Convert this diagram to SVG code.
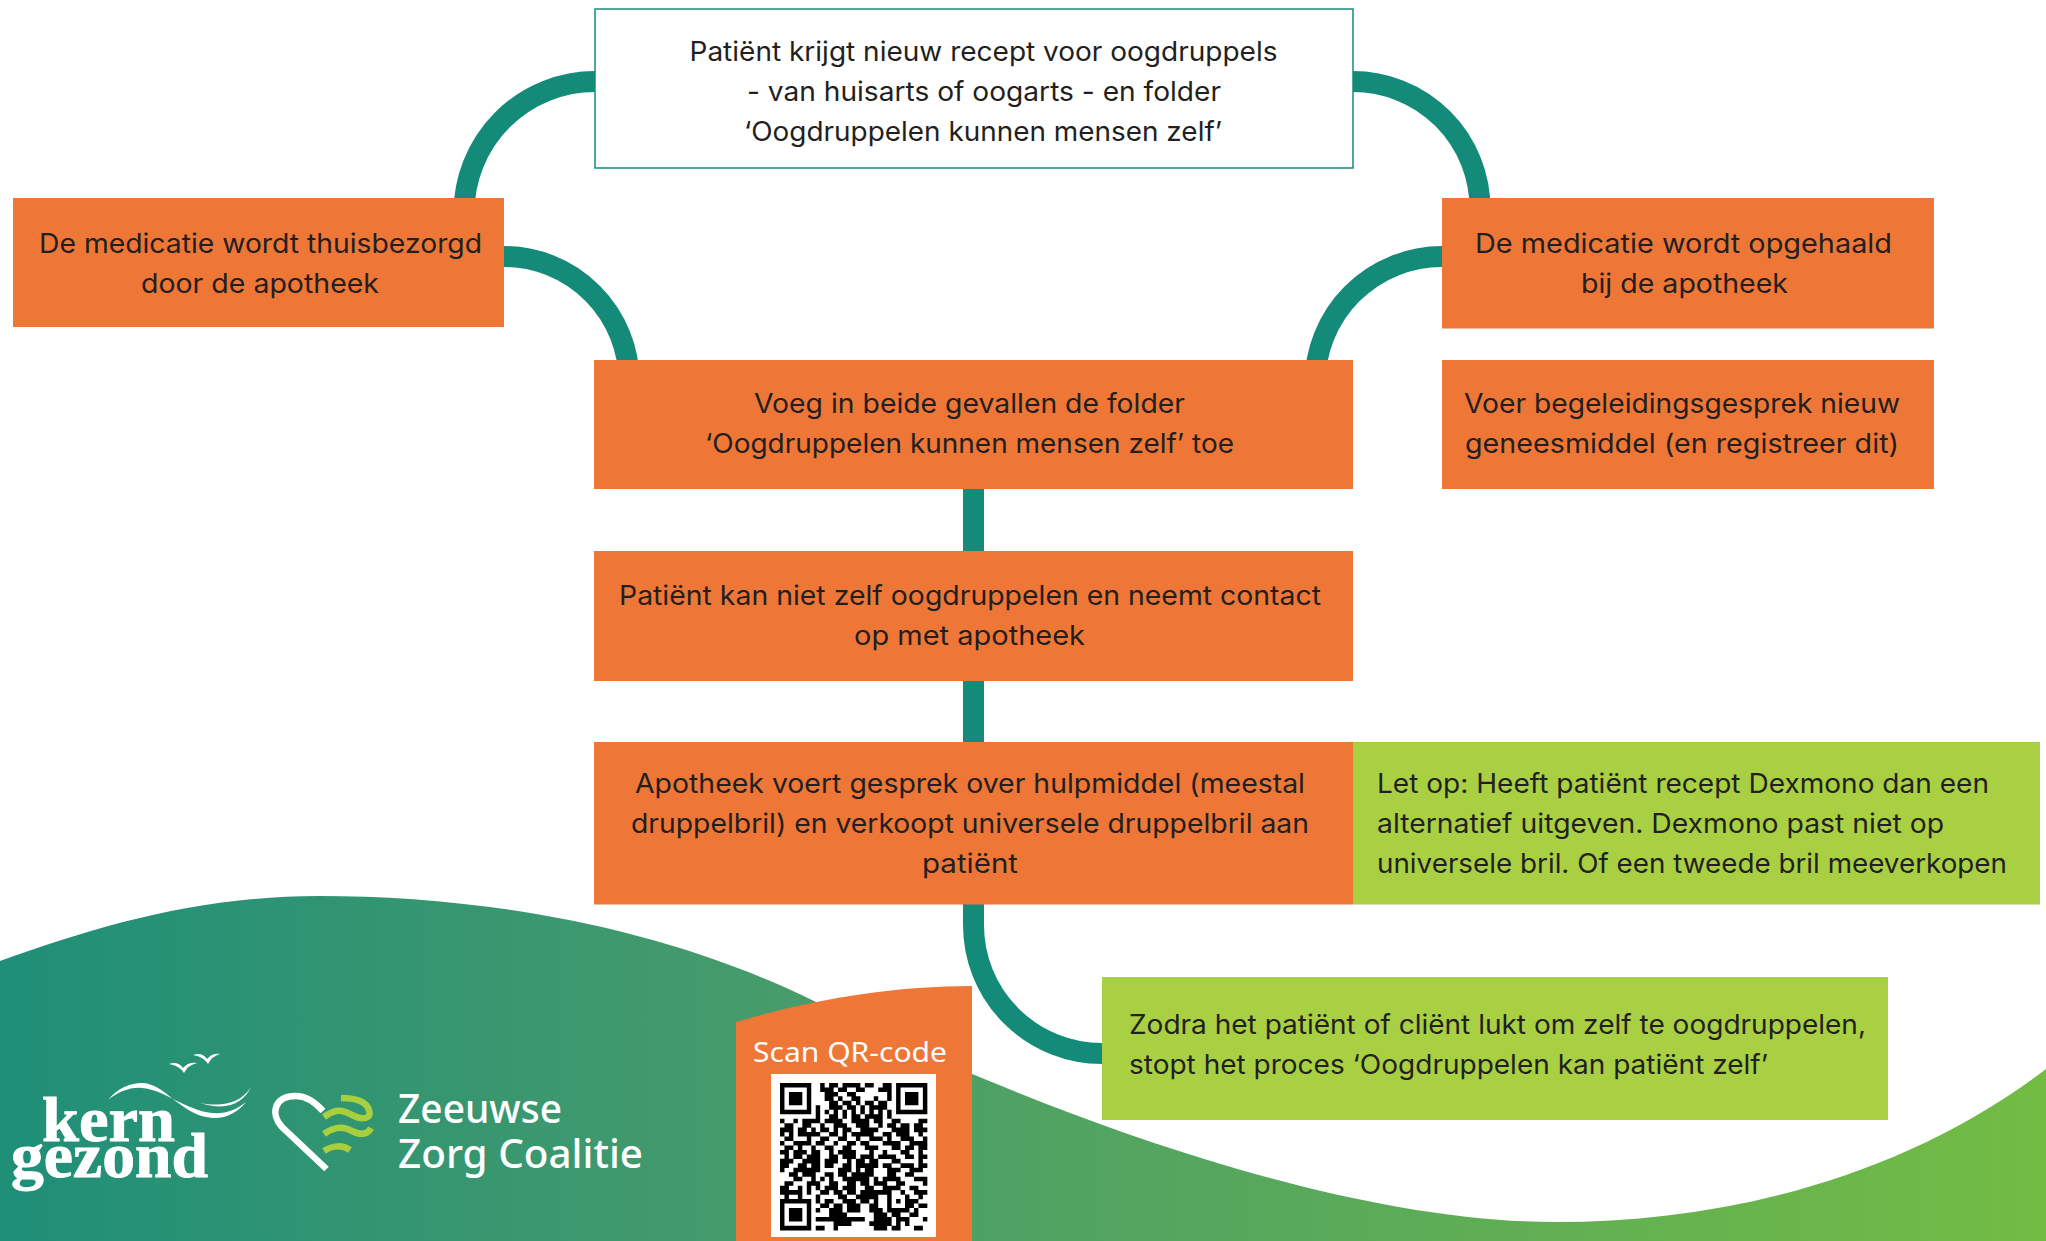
<svg xmlns="http://www.w3.org/2000/svg" width="2046" height="1241" viewBox="0 0 2046 1241">
<style>
.o{fill:#ee7737}.g{fill:#a8d042}
.t{font-family:Inter,"Noto Sans","Liberation Sans",sans-serif;font-size:26.7px;fill:#231f20}
.c{fill:none;stroke:#148b78;stroke-width:21}
.w{font-family:"Noto Sans","Open Sans",sans-serif;fill:#fff}
.k{font-family:"Liberation Serif",serif;font-weight:700;font-size:64px;fill:#fff;stroke:#fff;stroke-width:.9}
</style>
<defs><linearGradient id="bg" gradientUnits="userSpaceOnUse" x1="0" y1="0" x2="2046" y2="0"><stop offset="0" stop-color="#1f8f78"/><stop offset="0.37" stop-color="#469b6b"/><stop offset="1" stop-color="#72bc44"/></linearGradient></defs>
<rect width="2046" height="1241" fill="#fff"/>
<path id="wave" fill="url(#bg)" d="M0 961C100 925 200 896 319 896C480 896 660 925 816 1002C960 1075 1300 1222 1556 1222C1720 1222 1900 1180 2046 1069V1241H0Z"/>
<g id="connectors" class="c">
<path class="c" d="M600 81.5H595A131 131 0 0 0 464 212.5"/>
<path class="c" d="M1348 81.5H1353A127 127 0 0 1 1480 208.5"/>
<path class="c" d="M500 256.5H504A125 125 0 0 1 629 381.5"/>
<path class="c" d="M1448 256.5H1442A127 127 0 0 0 1315 383.5"/>
<path class="c" d="M973.5 485V555"/>
<path class="c" d="M973.5 676V746"/>
<path class="c" d="M973.5 900V925A128.5 128.5 0 0 0 1102 1053.5H1108"/>
</g>
<g id="n1"><rect x="595" y="9" width="758" height="159" fill="#fff" stroke="#148b78" stroke-width="1.5"/>
<text class="t" x="689.5" y="61" textLength="588" lengthAdjust="spacingAndGlyphs">Patiënt krijgt nieuw recept voor oogdruppels</text>
<text class="t" x="747" y="101" textLength="474" lengthAdjust="spacingAndGlyphs">- van huisarts of oogarts - en folder</text>
<text class="t" x="744" y="141" textLength="478" lengthAdjust="spacingAndGlyphs">‘Oogdruppelen kunnen mensen zelf’</text></g>
<g id="n2"><rect class="o" x="13" y="198" width="491" height="129"/>
<text class="t" x="39" y="253" textLength="443" lengthAdjust="spacingAndGlyphs">De medicatie wordt thuisbezorgd</text>
<text class="t" x="141" y="293" textLength="238" lengthAdjust="spacingAndGlyphs">door de apotheek</text></g>
<g id="n3"><rect class="o" x="1442" y="198" width="492" height="130.5"/>
<text class="t" x="1475" y="253" textLength="417" lengthAdjust="spacingAndGlyphs">De medicatie wordt opgehaald</text>
<text class="t" x="1581" y="293" textLength="207" lengthAdjust="spacingAndGlyphs">bij de apotheek</text></g>
<g id="n4"><rect class="o" x="594" y="360" width="759" height="129"/>
<text class="t" x="754" y="413" textLength="431" lengthAdjust="spacingAndGlyphs">Voeg in beide gevallen de folder</text>
<text class="t" x="705" y="453" textLength="529" lengthAdjust="spacingAndGlyphs">‘Oogdruppelen kunnen mensen zelf’ toe</text></g>
<g id="n5"><rect class="o" x="1442" y="360" width="492" height="129"/>
<text class="t" x="1464" y="413" textLength="436" lengthAdjust="spacingAndGlyphs">Voer begeleidingsgesprek nieuw</text>
<text class="t" x="1465" y="453" textLength="434" lengthAdjust="spacingAndGlyphs">geneesmiddel (en registreer dit)</text></g>
<g id="n6"><rect class="o" x="594" y="551" width="759" height="130"/>
<text class="t" x="619" y="605" textLength="702" lengthAdjust="spacingAndGlyphs">Patiënt kan niet zelf oogdruppelen en neemt contact</text>
<text class="t" x="854" y="645" textLength="231" lengthAdjust="spacingAndGlyphs">op met apotheek</text></g>
<g id="n7"><rect class="o" x="594" y="742" width="759" height="162.5"/>
<text class="t" x="635" y="793" textLength="670" lengthAdjust="spacingAndGlyphs">Apotheek voert gesprek over hulpmiddel (meestal</text>
<text class="t" x="631" y="833" textLength="678" lengthAdjust="spacingAndGlyphs">druppelbril) en verkoopt universele druppelbril aan</text>
<text class="t" x="922" y="873" textLength="96" lengthAdjust="spacingAndGlyphs">patiënt</text></g>
<g id="n8"><rect class="g" x="1353" y="742" width="687" height="162.5"/>
<text class="t" x="1377" y="793" textLength="612" lengthAdjust="spacingAndGlyphs">Let op: Heeft patiënt recept Dexmono dan een</text>
<text class="t" x="1377" y="833" textLength="567" lengthAdjust="spacingAndGlyphs">alternatief uitgeven. Dexmono past niet op</text>
<text class="t" x="1377" y="873" textLength="630" lengthAdjust="spacingAndGlyphs">universele bril. Of een tweede bril meeverkopen</text></g>
<g id="n9"><rect class="g" x="1102" y="977" width="786" height="143"/>
<text class="t" x="1129" y="1034" textLength="737" lengthAdjust="spacingAndGlyphs">Zodra het patiënt of cliënt lukt om zelf te oogdruppelen,</text>
<text class="t" x="1129" y="1074" textLength="639" lengthAdjust="spacingAndGlyphs">stopt het proces ‘Oogdruppelen kan patiënt zelf’</text></g>
<g id="qr-panel"><path class="o" d="M736 1022C810 1000 890 986 972 986V1241H736Z"/>
<text class="w" x="753" y="1062" font-size="27" textLength="194" lengthAdjust="spacingAndGlyphs">Scan QR-code</text>
<rect x="771" y="1074" width="165" height="163" fill="#fff"/>
<g transform="translate(780 1083) scale(4.465)"><path fill="none" stroke="#000" stroke-width="1.02" d="
M0 .5h7M9 .5h1M11 .5h2M14 .5h4M19 .5h2M23 .5h2M26 .5h7
M0 1.5h1M6 1.5h1M9 1.5h3M13 1.5h2M17 1.5h2M22 1.5h3M26 1.5h1M32 1.5h1
M0 2.5h1M2 2.5h3M6 2.5h1M10 2.5h3M15 2.5h2M24 2.5h1M26 2.5h1M28 2.5h3M32 2.5h1
M0 3.5h1M2 3.5h3M6 3.5h1M10 3.5h2M13 3.5h1M16 3.5h2M21 3.5h1M24 3.5h1M26 3.5h1M28 3.5h3M32 3.5h1
M0 4.5h1M2 4.5h3M6 4.5h1M11 4.5h2M14 4.5h2M17 4.5h1M19 4.5h2M22 4.5h2M26 4.5h1M28 4.5h3M32 4.5h1
M0 5.5h1M6 5.5h1M8 5.5h1M11 5.5h3M15 5.5h2M18 5.5h1M20 5.5h4M26 5.5h1M32 5.5h1
M0 6.5h7M8 6.5h1M10 6.5h1M12 6.5h1M14 6.5h1M16 6.5h1M18 6.5h1M20 6.5h1M22 6.5h1M24 6.5h1M26 6.5h7
M8 7.5h1M11 7.5h2M14 7.5h1M16 7.5h2M19 7.5h4M24 7.5h1
M0 8.5h1M3 8.5h1M5 8.5h4M10 8.5h4M16 8.5h4M21 8.5h2M25 8.5h2M31 8.5h2
M1 9.5h2M5 9.5h2M9 9.5h1M12 9.5h3M17 9.5h3M22 9.5h1M24 9.5h2M27 9.5h2M30 9.5h2
M0 10.5h3M4 10.5h2M7 10.5h1M9 10.5h2M12 10.5h1M14 10.5h2M18 10.5h4M25 10.5h4M30 10.5h3
M0 11.5h1M2 11.5h1M4 11.5h5M11 11.5h2M14 11.5h1M16 11.5h5M23 11.5h2M26 11.5h3M31 11.5h1
M1 12.5h2M6 12.5h1M9 12.5h2M13 12.5h2M17 12.5h1M20 12.5h3M24 12.5h1M27 12.5h3M32 12.5h1
M0 13.5h1M3 13.5h4M8 13.5h2M12 13.5h1M15 13.5h2M18 13.5h2M23 13.5h4M29 13.5h4
M1 14.5h2M4 14.5h1M7 14.5h1M10 14.5h2M14 14.5h2M19 14.5h3M25 14.5h2M28 14.5h2M31 14.5h2
M0 15.5h2M3 15.5h3M7 15.5h2M11 15.5h1M13 15.5h4M20 15.5h1M23 15.5h1M27 15.5h2M31 15.5h1
M1 16.5h1M3 16.5h2M6 16.5h3M11 16.5h2M14 16.5h3M18 16.5h3M22 16.5h4M28 16.5h2M31 16.5h2
M0 17.5h3M5 17.5h4M10 17.5h3M15 17.5h1M17 17.5h2M20 17.5h2M25 17.5h2M31 17.5h1
M0 18.5h2M4 18.5h2M7 18.5h2M10 18.5h2M14 18.5h2M17 18.5h5M23 18.5h2M27 18.5h3M31 18.5h2
M0 19.5h1M3 19.5h6M13 19.5h3M17 19.5h1M19 19.5h2M24 19.5h3M29 19.5h3
M2 20.5h2M5 20.5h3M10 20.5h2M13 20.5h2M16 20.5h5M24 20.5h2M28 20.5h2
M3 21.5h2M7 21.5h1M9 21.5h1M11 21.5h1M14 21.5h1M15 21.5h5M21 21.5h1M23 21.5h4M30 21.5h3
M1 22.5h2M6 22.5h3M11 22.5h2M15 22.5h2M18 22.5h2M21 22.5h3M26 22.5h2M32 22.5h1
M0 23.5h2M4 23.5h1M6 23.5h1M8 23.5h1M10 23.5h3M14 23.5h3M19 23.5h2M23 23.5h4M29 23.5h2
M0 24.5h5M6 24.5h1M9 24.5h2M12 24.5h2M15 24.5h2M18 24.5h7M27 24.5h1M30 24.5h3
M1 25.5h1M4 25.5h1M8 25.5h1M13 25.5h2M17 25.5h5M24 25.5h1M28 25.5h1M31 25.5h1
M0 26.5h7M8 26.5h1M10 26.5h2M14 26.5h3M18 26.5h2M21 26.5h1M24 26.5h1M26 26.5h1M28 26.5h3
M0 27.5h1M6 27.5h1M9 27.5h2M12 27.5h2M15 27.5h3M20 27.5h2M24 27.5h1M28 27.5h2M31 27.5h2
M0 28.5h1M2 28.5h3M6 28.5h1M8 28.5h1M11 28.5h3M15 28.5h3M20 28.5h3M24 28.5h5M30 28.5h1
M0 29.5h1M2 29.5h3M6 29.5h1M11 29.5h4M21 29.5h3M25 29.5h2M29 29.5h2
M0 30.5h1M2 30.5h3M6 30.5h1M8 30.5h1M9 30.5h10M21 30.5h4M26 30.5h3M32 30.5h1
M0 31.5h1M6 31.5h1M12 31.5h4M20 31.5h5M26 31.5h1M28 31.5h1
M0 32.5h7M8 32.5h2M12 32.5h1M21 32.5h3M25 32.5h2M30 32.5h2"/></g></g>
<g id="logo-kern-gezond">
<path fill="#fff" d="M169 1064Q178 1061 183 1068Q188 1062 197 1063Q188 1065 184 1073Q180 1066 169 1064ZM193 1055Q202 1052 207 1059Q212 1053 220 1054Q212 1056 208 1064Q204 1057 193 1055Z"/>
<path fill="#fff" d="M108 1100C118 1088 130 1083 142 1083C165 1083 180 1115 212 1118C226 1119 238 1112 246 1102C236 1110 226 1114 212 1113C185 1110 165 1090 142 1088C130 1087 118 1092 108 1100ZM200 1103C222 1107 240 1104 251 1087C244 1102 228 1112 200 1103Z"/>
<text class="k" x="42" y="1141" textLength="133" lengthAdjust="spacingAndGlyphs">kern</text>
<text class="k" x="11" y="1177" textLength="197" lengthAdjust="spacingAndGlyphs">gezond</text>
</g>
<g id="logo-zzc">
<path fill="none" stroke="#fff" stroke-width="6.5" d="M326.5 1169L282 1127C270 1114 274 1096 296 1096C306 1096 314 1101 323 1111"/>
<path fill="none" stroke="#a9cf3f" stroke-width="6.5" d="M324 1117C335 1109 342 1109 352 1115C364 1121 372 1118 369 1110C366 1101 355 1098 341 1098M324 1134C335 1126 345 1127 352 1131C362 1136 368 1134 371 1128M324 1151C333 1145 343 1145 350 1150"/>
<text class="w" x="398" y="1123" font-size="40" font-weight="500" textLength="164" lengthAdjust="spacingAndGlyphs">Zeeuwse</text>
<text class="w" x="398" y="1168" font-size="40" font-weight="500" textLength="245" lengthAdjust="spacingAndGlyphs">Zorg Coalitie</text>
</g>
</svg>
